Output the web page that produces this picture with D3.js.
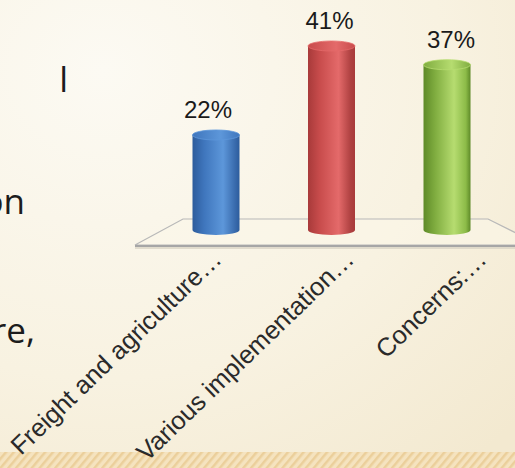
<!DOCTYPE html>
<html>
<head>
<meta charset="utf-8">
<script src="https://cdn.jsdelivr.net/npm/d3@7"></script>
<style>
  html, body { margin: 0; padding: 0; background: #f8f2e2; }
  svg { display: block; }
</style>
</head>
<body>
<script>
// Survey results: share of responses per theme
const categories = ["Freight and agriculture…", "Various implementation…", "Concerns:…"];
const values = [22, 41, 37];
const valueLabels = ["22%", "41%", "37%"];
// Cylinder shading: [dark edge, mid, highlight, right edge]
const barShades = [
  ["#2d5c9c", "#3f76bd", "#5d97da", "#3a6cae"],
  ["#a83a3a", "#c84c4c", "#e46a6a", "#b04242"],
  ["#5e8a28", "#80ad40", "#b6dc70", "#8cbb48"]
];
// Word endings of the slide's body text, cut by the left edge
const sideText = ["l", "on", "re,"];

const W = 515, H = 468;
const svg = d3.select("body").append("svg").attr("width", W).attr("height", H);
const defs = svg.append("defs");

// Page background
const bg = defs.append("radialGradient").attr("id", "bg")
  .attr("cx", "0.2").attr("cy", "0.15").attr("r", "1.1");
bg.append("stop").attr("offset", "0").attr("stop-color", "#fcfaf3");
bg.append("stop").attr("offset", "0.6").attr("stop-color", "#f8f2e1");
bg.append("stop").attr("offset", "1").attr("stop-color", "#f3e9d0");
svg.append("rect").attr("width", W).attr("height", H).attr("fill", "url(#bg)");

// Hatched footer band
const hatch = defs.append("pattern").attr("id", "hatch")
  .attr("width", 6).attr("height", 6).attr("patternUnits", "userSpaceOnUse")
  .attr("patternTransform", "rotate(40)");
hatch.append("rect").attr("width", 6).attr("height", 6).attr("fill", "#f5e3bf");
hatch.append("rect").attr("width", 2.5).attr("height", 6).attr("fill", "#ebcf9b");
svg.append("rect").attr("x", 0).attr("y", 452).attr("width", W).attr("height", H - 452)
  .attr("fill", "url(#hatch)");

// Slide body text fragments (right-aligned word endings)
const sideX = [68, 25, 35];
const sideY = [92, 214, 343];
svg.selectAll("text.side").data(sideText).join("text")
  .attr("class", "side")
  .attr("x", (d, i) => sideX[i])
  .attr("y", (d, i) => sideY[i])
  .attr("text-anchor", "end")
  .attr("font-family", "'Open Sans', 'Noto Sans', sans-serif")
  .attr("font-size", 35)
  .attr("fill", "#1c1c1c")
  .text(d => d);

// Scales
const x = d3.scalePoint().domain(categories).range([216, 447]);        // bar centres
const xLabel = d3.scalePoint().domain(categories).range([208, 451]);   // value label centres
const xTick = d3.scalePoint().domain(categories).range([223, 488]);    // category label anchors
const y = d3.scaleLinear().domain([0, 41]).range([233, 41]);

const rx = 23.5, ry = 5, base = 230;

// 3D floor
const floor = svg.append("g");
floor.append("path")
  .attr("d", "M135,245 L183,219 L488,219 L540,245 Z")
  .attr("fill", "#fbf7ea").attr("fill-opacity", 0.5)
  .attr("stroke", "#b8b8b8").attr("stroke-width", 1.2);
floor.append("line").attr("x1", 135).attr("y1", 246).attr("x2", W).attr("y2", 246)
  .attr("stroke", "#a6a6a6").attr("stroke-width", 2.2);
floor.append("line").attr("x1", 135).attr("y1", 248).attr("x2", W).attr("y2", 248)
  .attr("stroke", "#d9d3c4").attr("stroke-width", 1.5);

// Gradients for cylinders
barShades.forEach((s, i) => {
  const g = defs.append("linearGradient").attr("id", "cyl" + i)
    .attr("x1", 0).attr("x2", 1).attr("y1", 0).attr("y2", 0);
  [[0, s[0]], [0.25, s[1]], [0.65, s[2]], [0.9, s[3]], [1, s[0]]].forEach(([o, c]) =>
    g.append("stop").attr("offset", o).attr("stop-color", c));
  const t = defs.append("linearGradient").attr("id", "top" + i)
    .attr("x1", 0).attr("x2", 1).attr("y1", 0).attr("y2", 0);
  [[0, s[1]], [0.6, s[2]], [1, s[1]]].forEach(([o, c]) =>
    t.append("stop").attr("offset", o).attr("stop-color", c));
});

const bars = svg.append("g").selectAll("g").data(categories).join("g");
bars.append("path")
  .attr("d", (c, i) => {
    const cx = x(c), top = y(values[i]) + ry;
    return `M${cx - rx},${top} L${cx - rx},${base} A${rx},${ry} 0 0 0 ${cx + rx},${base} L${cx + rx},${top} Z`;
  })
  .attr("fill", (c, i) => `url(#cyl${i})`);
bars.append("ellipse")
  .attr("cx", c => x(c))
  .attr("cy", (c, i) => y(values[i]) + ry)
  .attr("rx", rx).attr("ry", ry)
  .attr("fill", (c, i) => `url(#top${i})`)
  .attr("stroke", (c, i) => barShades[i][2]).attr("stroke-width", 0.8);

// Value labels
svg.append("g").selectAll("text").data(categories).join("text")
  .attr("x", c => xLabel(c))
  .attr("y", (c, i) => y(values[i]) - 12)
  .attr("text-anchor", "middle")
  .attr("font-family", "'Liberation Sans', Arial, sans-serif")
  .attr("font-size", 24)
  .attr("fill", "#1a1a1a")
  .text((c, i) => valueLabels[i]);

// Category labels, rotated
svg.append("g").selectAll("text").data(categories).join("text")
  .attr("transform", c => `translate(${xTick(c)},261) rotate(-44)`)
  .attr("text-anchor", "end")
  .attr("font-family", "'Liberation Sans', Arial, sans-serif")
  .attr("font-size", 25.5)
  .attr("fill", "#2a2a2a")
  .text(c => c);
</script>
</body>
</html>
